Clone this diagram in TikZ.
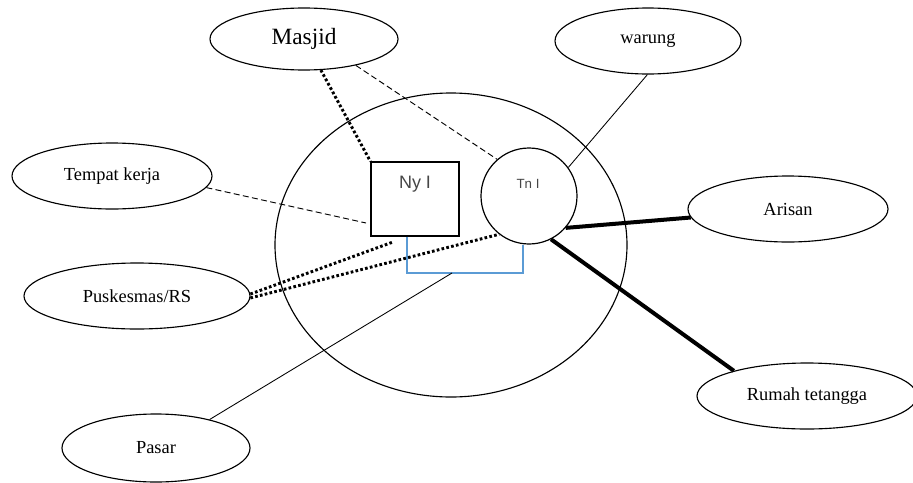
\documentclass[tikz,border=0pt]{standalone}
\usepackage{fontspec}
\setmainfont{Liberation Serif}
\newfontfamily\arialf{Liberation Sans}
\usetikzlibrary{shapes.geometric}
\definecolor{kinblue}{RGB}{91,155,213}
\definecolor{labgray}{RGB}{70,70,70}
\tikzset{
  place/.style={draw, ellipse, line width=0.85pt, inner sep=0pt, font=\fontsize{13.8}{15}\selectfont},
  thinline/.style={line width=0.65pt},
  dashline/.style={line width=0.7pt, dash pattern=on 4.5pt off 2.5pt},
  dotline/.style={line width=2.2pt, dash pattern=on 2pt off 1.7pt},
  thickline/.style={line width=3pt},
  kinline/.style={draw=kinblue, line width=0.9pt}
}
\begin{document}
\begin{tikzpicture}[x=0.75pt,y=-0.75pt]
\useasboundingbox (0,0) rectangle (913,482);
% household
\node[draw, ellipse, line width=0.85pt, minimum width=264pt, minimum height=228pt] (home) at (451,245) {};
\node[draw, line width=0.9pt, minimum width=66pt, minimum height=55.5pt, inner sep=0pt] (ny) at (415,199) {};
\node[font=\arialf\fontsize{13.5}{15}\selectfont, text=labgray] (nylab) at (415,184) {Ny I};
\node[draw, circle, line width=0.9pt, minimum size=72pt, inner sep=0pt] (tn) at (529,196) {};
\node[font=\arialf\fontsize{10}{11}\selectfont, text=labgray] (tnlab) at (528,184) {Tn I};
% outside places
\node[place, minimum width=141pt, minimum height=46.5pt, font=\fontsize{17.5}{19}\selectfont] (masjid) at (304,39) {Masjid};
\node[place, minimum width=139.5pt, minimum height=49.5pt] (warung) at (648,41) {warung};
\node[place, minimum width=150pt, minimum height=49.5pt] (tempat) at (112,176) {Tempat kerja};
\node[place, minimum width=169.5pt, minimum height=49.5pt] (pusk) at (137,296) {Puskesmas/RS};
\node[place, minimum width=141pt, minimum height=51pt] (pasar) at (156,448) {Pasar};
\node[place, minimum width=150pt, minimum height=49.5pt] (arisan) at (788,209) {Arisan};
\node[place, minimum width=165pt, minimum height=49.5pt] (rumah) at (807,396) {Rumah tetangga};
% helper coordinates
\coordinate (bl) at (407,273);
\coordinate (br) at (523,273);
\coordinate (pm) at (452,273);
\coordinate (tkend) at (366,223);
\coordinate (pkend) at (393,242);
% kinship link
\draw[kinline] (ny.south -| bl) -- (bl) -- (br) -- (tn.south -| br);
% connectors
\draw[dotline] (masjid) -- (ny.north west);
\draw[dashline] (masjid.-27) -- (tn.131);
\draw[thinline] (warung.-91) -- (tn.36);
\draw[dashline] (tempat.-7) -- (tkend);
\draw[dotline] (pusk.1) -- (pkend);
\draw[dotline] (pusk.-1) -- (tn.232);
\draw[thickline] (arisan.185) -- (tn.-41);
\draw[thickline] (tn.-63) -- (rumah.161);
\draw[thinline] (pasar.28) -- (pm);
\end{tikzpicture}
\end{document}
